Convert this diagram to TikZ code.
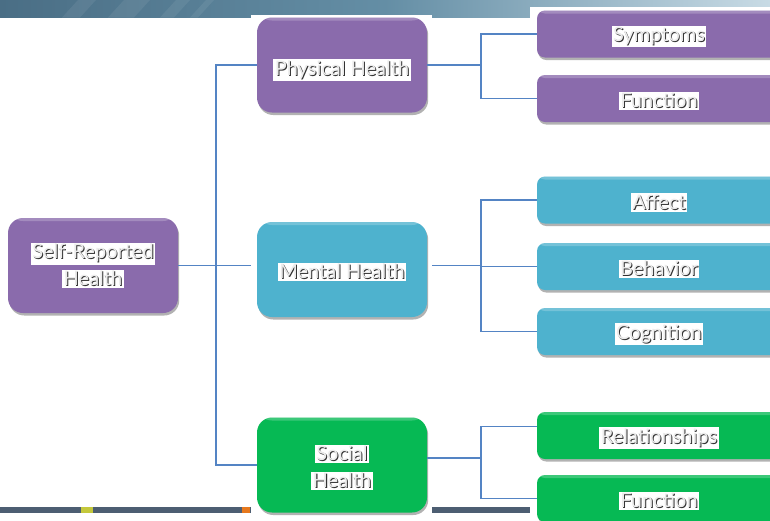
\documentclass[tikz,border=0pt]{standalone}
\usepackage{fontspec}
\setmainfont{Lato}
\usetikzlibrary{shadows}

\definecolor{bannerL}{RGB}{74,110,133}
\definecolor{bannerM}{RGB}{100,142,165}
\definecolor{bannerR}{RGB}{200,219,229}
\definecolor{stripC}{RGB}{77,94,114}
\definecolor{stripY}{RGB}{196,200,60}
\definecolor{stripO}{RGB}{230,120,30}
\definecolor{connblue}{RGB}{84,132,196}
\definecolor{boxpurple}{RGB}{138,107,172}
\definecolor{boxblue}{RGB}{78,178,206}
\definecolor{boxgreen}{RGB}{6,185,84}
\definecolor{txtface}{RGB}{236,236,236}
\definecolor{txtshadow}{RGB}{50,50,50}

% embossed label on a white plate, drawn slightly below its slot
\newcommand\shlabel[2][2.5pt]{\raisebox{-#1}[\height][\depth]{{\setlength{\fboxsep}{1.5pt}\colorbox{white}{\rlap{\hspace{1pt}\raisebox{-1pt}{\color{txtshadow}#2}}{\color{txtface}#2}}}}}

\tikzset{
  boxbase/.style={inner sep=0pt, align=center,
    font=\fontsize{20}{27}\selectfont,
    drop shadow={shadow xshift=1.2pt, shadow yshift=-2.5pt, opacity=0.3, fill=black},
    path picture={\fill[white,opacity=0.22]
      (path picture bounding box.north west) rectangle
      ([yshift=-3pt]path picture bounding box.north east);}},
  bigbox/.style={boxbase, rounded corners=15pt, minimum width=170pt, minimum height=95pt},
  subbox/.style={boxbase, rounded corners=8pt, minimum width=244pt, minimum height=47pt},
  purplefill/.style={fill=boxpurple},
  bluefill/.style={fill=boxblue},
  greenfill/.style={fill=boxgreen},
  conn/.style={draw=connblue, line width=1.1pt}
}

\begin{document}
\begin{tikzpicture}[x=1pt,y=-1pt]
\clip (0,0) rectangle (770,520);
\fill[white] (0,0) rectangle (770,520);

% header band with faint pattern
\shade[left color=bannerL, right color=bannerR, middle color=bannerM] (0,0) rectangle (770,17.5);
\begin{scope}[white, opacity=0.07]
  \fill (62,17.5) -- (78,0) -- (96,0) -- (80,17.5) -- cycle;
  \fill (108,17.5) -- (124,0) -- (150,0) -- (134,17.5) -- cycle;
  \fill (160,17.5) -- (176,0) -- (190,0) -- (174,17.5) -- cycle;
  \fill (190,17.5) -- (206,0) -- (214,0) -- (198,17.5) -- cycle;
\end{scope}

% footer strip
\fill[stripC] (0,507) rectangle (770,512.5);
\fill[stripY] (81,507) rectangle (93,512.5);
\fill[stripO] (242,507) rectangle (250,512.5);

% white panels behind the columns
\fill[white] (251,15) rectangle (432,520);
\fill[white] (530,7) rectangle (770,520);

% boxes
\node[bigbox, purplefill] (self) at (93,265.5) {\shlabel[0pt]{Self-Reported}\\\shlabel[0pt]{Health}};
\node[bigbox, purplefill] (phys) at (342,65) {\shlabel[5pt]{Physical Health}};
\node[bigbox, bluefill]   (ment) at (342,269.5) {\shlabel{Mental Health}};
\node[bigbox, greenfill]  (soc)  at (342,465) {\shlabel{Social}\\\shlabel{Health}};

\node[subbox, purplefill] (sym)  at (659,34)    {\shlabel{Symptoms}};
\node[subbox, purplefill] (fun1) at (659,98.5)  {\shlabel{Function}};
\node[subbox, bluefill]   (aff)  at (659,200)   {\shlabel{Affect}};
\node[subbox, bluefill]   (beh)  at (659,266.5) {\shlabel{Behavior}};
\node[subbox, bluefill]   (cog)  at (659,331.5) {\shlabel{Cognition}};
\node[subbox, greenfill]  (rel)  at (659,435.5) {\shlabel{Relationships}};
\node[subbox, greenfill]  (fun2) at (659,498.5) {\shlabel{Function}};

% junction columns
\coordinate (jl) at (216,0);
\coordinate (jr) at (481,0);

% left tree
\draw[conn] (self.east) -- (self.east -| jl);
\draw[conn, shorten >=6pt] (self.east -| jl) -- (self.east -| ment.west);
\draw[conn] (phys.west) -| (jl |- soc.west) -- (soc.west);

% physical branch
\draw[conn] (phys.east) -- (phys.east -| jr);
\draw[conn] (sym.west) -| (jr |- fun1.west) -- (fun1.west);

% mental branch
\draw[conn, shorten <=5pt] (self.east -| ment.east) -- (self.east -| jr);
\draw[conn] (aff.west) -| (jr |- cog.west) -- (cog.west);
\draw[conn] (jr |- beh.west) -- (beh.west);

% social branch
\draw[conn] ([yshift=7pt]soc.east) -- ([yshift=7pt]soc.east -| jr);
\draw[conn] ([yshift=9pt]rel.west) -| (jr |- fun2.west) -- (fun2.west);
\end{tikzpicture}
\end{document}
